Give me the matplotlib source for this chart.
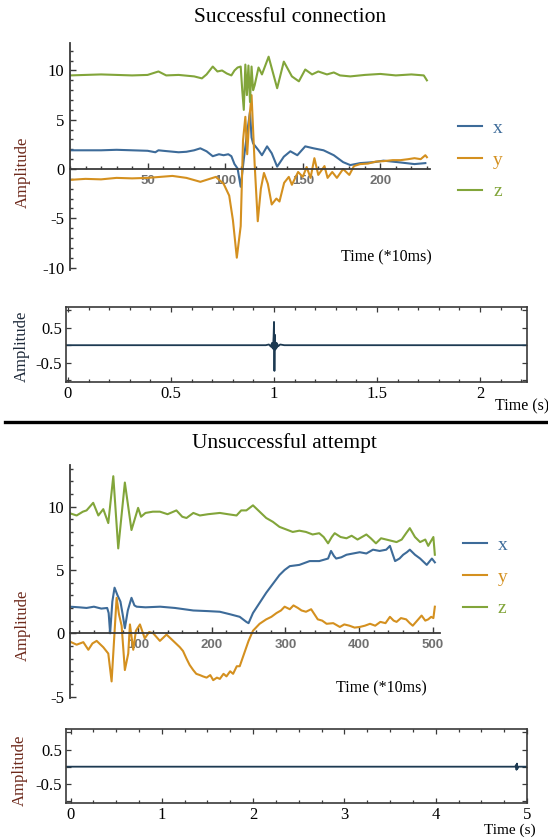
import matplotlib
matplotlib.use("Agg")
import matplotlib.pyplot as plt
from matplotlib.lines import Line2D
from matplotlib.ticker import MultipleLocator

plt.rcParams["font.family"] = ["Liberation Serif", "DejaVu Serif"]

# ---- successful connection: accelerometer (time in *10ms) ----
s_x_t = [0, 10, 20, 30, 40, 50, 55, 57, 60, 70, 75, 80, 84, 88, 92, 96, 99, 102, 104, 106, 108, 110,
         112, 114, 116, 117, 118, 120, 121.5, 123.7, 127, 130, 133.5, 137.8, 142, 146.5, 151.6, 157,
         163.4, 170, 176, 180.6, 187, 196, 202, 211, 222, 229]
s_x_v = [1.9, 1.9, 1.9, 1.95, 1.9, 1.85, 1.7, 1.9, 1.85, 1.7, 1.75, 1.9, 2.1, 1.8, 1.3, 1.5, 1.4, 1.5,
         1.3, 0.5, 0.05, -1.8, 1.0, 3.5, 5.8, 3.2, 2.6, 2.2, 1.9, 1.4, 2.3, 1.6, 0.24, 1.25, 1.8, 1.4,
         2.3, 2.1, 1.9, 1.4, 0.7, 0.4, 0.6, 0.7, 0.85, 0.7, 0.5, 0.6]

s_y_t = [0, 10, 20, 30, 40, 50, 58, 66, 75, 84, 90, 94, 99, 102.6, 105, 107.5, 110, 111.5, 113, 114.2,
         115.5, 117, 119, 121, 123, 125, 127.5, 130, 133, 135, 138, 141, 143, 147, 150, 152.5, 155,
         157.5, 160, 164, 166, 169, 172, 176, 180, 183, 187, 192, 197, 202, 208, 213, 218, 222, 226,
         229, 230]
s_y_v = [-1.1, -1.0, -1.05, -0.9, -0.95, -0.9, -0.8, -0.7, -0.9, -1.3, -1.0, -0.8, -1.5, -2.7, -5.2,
         -9.0, -5.8, 2.9, 5.3, 1.5, 5.0, 7.5, 0.5, -5.3, -2.0, -0.4, -1.5, -3.6, -3.0, -3.3, -1.4, -0.8,
         -1.6, -0.3, -0.8, 0.2, -0.9, 1.1, -0.6, 0.3, -0.9, -0.3, -0.9, 0.0, -0.6, 0.3, 0.5, 0.55, 0.75,
         0.8, 0.9, 0.9, 1.0, 1.1, 1.0, 1.4, 1.2]

s_z_t = [0, 10, 20, 30, 40, 50, 57, 62, 70, 80, 85, 88, 92, 95, 98, 101, 104, 106, 108, 110, 111, 112,
         113, 114, 115, 116, 117, 118, 119, 121.5, 123.7, 128, 133.5, 137.8, 143, 147.5, 151.6, 156,
         160, 165.6, 170, 174, 180.6, 190, 200, 210, 220, 228, 230]
s_z_v = [9.5, 9.55, 9.6, 9.55, 9.5, 9.55, 9.9, 9.5, 9.55, 9.4, 9.2, 9.6, 10.4, 9.9, 10.0, 9.7, 9.5,
         10.0, 10.3, 10.4, 8.0, 6.0, 10.6, 7.5, 10.5, 6.8, 10.4, 8.0, 8.5, 10.3, 9.6, 11.4, 8.2, 10.9,
         9.4, 8.9, 10.1, 9.6, 9.9, 9.6, 9.8, 9.5, 9.4, 9.55, 9.65, 9.5, 9.6, 9.5, 9.0]

# ---- successful connection: audio (s) ----
s_aud_t = [-0.01, 0.96, 0.975, 0.985, 0.99, 0.995, 0.998, 1.0, 1.002, 1.004, 1.007, 1.012, 1.02,
           1.03, 1.05, 2.23]
s_aud_v = [0, 0, 0.02, -0.04, 0.06, -0.1, 0.25, 0.67, -0.74, 0.3, -0.12, 0.06, -0.03, 0.02, 0, 0]
s_burst = (1.0, 0.0)

# ---- unsuccessful attempt: accelerometer ----
u_x_t = [7.5, 20, 30, 40, 50, 58, 60, 62, 65, 68, 72, 76, 79, 82, 86, 91, 95, 98, 110, 130, 150, 175,
         195, 211, 225, 238, 247, 250, 256, 265, 274, 283, 292, 299, 306, 319, 333, 346, 358, 362, 366,
         369, 376, 383, 392, 401, 410, 419, 428, 437, 442, 446, 449, 455, 460, 465, 469, 476, 483, 492,
         499, 503]
u_x_v = [2.1, 2.05, 2.0, 2.1, 1.95, 2.0, 1.6, 0.0, 2.5, 3.6, 3.0, 2.5, 1.5, 0.4, 1.8, 2.8, 2.2, 2.1,
         2.05, 2.1, 2.0, 1.8, 1.75, 1.7, 1.5, 1.3, 0.9, 0.8, 1.6, 2.4, 3.2, 3.9, 4.6, 5.0, 5.3, 5.4,
         5.7, 5.7, 5.9, 6.5, 6.1, 5.9, 6.0, 6.2, 6.3, 6.4, 6.3, 6.6, 6.5, 6.6, 6.9, 6.2, 5.7, 5.9, 6.2,
         6.4, 6.6, 6.2, 5.9, 5.4, 5.9, 5.6]

u_y_t = [7.5, 16.5, 25.6, 32.4, 38, 43.7, 52.7, 59.5, 64, 70.8, 74, 77.6, 82, 86.6, 88.9, 93.4, 97,
         102.5, 109, 115, 120.5, 129.6, 138.6, 147.7, 156.7, 161, 165.7, 170, 174.8, 179, 183.9, 188,
         193, 198, 202, 207, 211, 216, 220, 225, 229, 234, 238, 244, 250, 256, 265, 274, 281, 288, 294,
         299, 306, 311, 317, 322, 328, 335, 344, 350, 356, 365, 374, 380, 387, 394, 401, 408, 415, 422,
         429, 436, 442, 447, 451, 457, 464, 469, 473, 479, 485, 490, 494, 498, 501, 503]
u_y_v = [-0.66, -0.9, -0.7, -1.3, -0.8, -0.6, -1.1, -1.6, -3.8, 2.8, 1.5, 0.6, -2.9, -1.6, 0.7, -1.3,
         0.2, 0.7, -0.4, 0.1, 0.0, -0.6, -0.1, -0.6, -1.1, -1.4, -2.0, -2.5, -2.9, -3.2, -3.3, -3.4,
         -3.5, -3.3, -3.7, -3.5, -3.6, -3.2, -3.4, -3.0, -3.2, -2.6, -2.6, -1.6, -0.6, 0.2, 0.75, 1.1,
         1.3, 1.6, 1.8, 2.1, 1.9, 2.2, 2.0, 1.8, 1.7, 1.9, 1.1, 1.0, 0.75, 0.8, 0.5, 0.7, 0.6, 0.45,
         0.5, 0.6, 0.75, 0.6, 0.9, 0.8, 1.3, 1.0, 0.9, 1.2, 1.1, 0.8, 0.6, 1.0, 1.4, 1.0, 1.1, 1.3,
         1.2, 2.1]

u_z_t = [7.5, 16.5, 25, 30, 39, 46, 52.7, 59.5, 66.3, 73, 82, 91, 100, 104, 110, 120, 129.6, 140, 152,
         160, 165.7, 175, 183.9, 195, 211, 222, 233.7, 240, 247, 256, 265, 274, 283, 292, 301, 310, 319,
         328, 337, 346, 352, 358, 363, 367, 375, 383, 390, 398, 404, 410, 416, 423, 430, 437, 444, 451,
         458, 464, 469, 476, 483, 490, 494, 498, 501, 503]
u_z_v = [9.47, 9.3, 9.6, 9.7, 10.3, 9.3, 9.8, 8.7, 12.4, 6.7, 11.9, 8.15, 9.9, 9.2, 9.5, 9.6, 9.6,
         9.4, 9.7, 9.2, 9.1, 9.5, 9.3, 9.4, 9.5, 9.4, 9.3, 9.7, 9.7, 10.1, 9.6, 9.1, 8.8, 8.4, 8.2, 8.0,
         8.1, 8.0, 7.8, 7.9, 7.6, 7.1, 7.6, 7.9, 7.6, 7.5, 7.7, 7.4, 7.6, 7.8, 7.5, 7.1, 7.5, 7.4, 7.3,
         7.2, 7.4, 7.9, 8.3, 7.6, 7.2, 7.4, 6.9, 7.3, 7.6, 6.2]

# ---- unsuccessful attempt: audio ----
u_aud_t = [-0.05, 4.87, 4.88, 4.885, 4.89, 4.895, 4.9, 5.0]
u_aud_v = [0, 0, 0.05, -0.09, 0.09, -0.06, 0, 0]

series_names = ["x", "y", "z"]
BLUE, ORANGE, GREEN = "#3d6b99", "#d4901f", "#82a53a"
AUDIO = "#1d3a52"
SPINE = "#3a3a3a"
W, H = 548, 839


def fig_rect(left, top, right, bottom):
    return [left / W, 1 - bottom / H, (right - left) / W, (bottom - top) / H]


def accel_panel(rect, xlim, ylim, xticks, xminor, yticks, series, legend_px):
    ax = fig.add_axes(rect)
    ax.set_facecolor("none")
    for (t, v), c, name in zip(series, [BLUE, ORANGE, GREEN], series_names):
        ax.plot(t, v, color=c, lw=1.5, label=name, zorder=2)
    ax.set_xlim(*xlim)
    ax.set_ylim(*ylim)
    ax.spines["top"].set_visible(False)
    ax.spines["right"].set_visible(False)
    ax.spines["bottom"].set_position(("data", 0))
    for s in ("left", "bottom"):
        ax.spines[s].set_color(SPINE)
        ax.spines[s].set_linewidth(1.3)
        ax.spines[s].set_zorder(3)
    ax.set_xticks(xticks, labels=[str(x) for x in xticks], fontfamily="Liberation Sans",
                  fontweight="bold", fontsize=9.5, color="#707070")
    ax.xaxis.set_minor_locator(MultipleLocator(xminor))
    ax.set_yticks(yticks, labels=[str(y) for y in yticks], fontsize=12)
    ax.yaxis.set_minor_locator(MultipleLocator(1))
    ax.tick_params(which="both", direction="in", color=SPINE, width=1)
    ax.tick_params(which="major", length=4)
    ax.tick_params(which="minor", length=2.5)
    ax.tick_params(axis="x", pad=4)
    ax.tick_params(axis="y", pad=4)
    ax.legend(loc="center left", bbox_to_anchor=(legend_px[0] / W, 1 - legend_px[1] / H),
              bbox_transform=fig.transFigure, frameon=False, fontsize=14, handlelength=1.25,
              handletextpad=0.55, labelspacing=0.72, borderpad=0, borderaxespad=0,
              labelcolor="linecolor")
    return ax


def audio_panel(rect, xlim, t, v, xticks, xlabels, xminor):
    ax = fig.add_axes(rect)
    ax.plot(t, v, color=AUDIO, lw=1.3)
    ax.set_xlim(*xlim)
    ax.set_ylim(-1.06, 1.1)
    for s in ax.spines.values():
        s.set_color(SPINE)
        s.set_linewidth(1.2)
    ax.set_xticks(xticks, labels=xlabels, fontsize=12)
    ax.xaxis.set_minor_locator(MultipleLocator(xminor))
    ax.set_yticks([-1, -0.5, 0, 0.5, 1], labels=["", "-0.5", "", "0.5", ""], fontsize=12)
    ax.tick_params(which="both", direction="in", top=True, right=True, color=SPINE, width=0.9)
    ax.tick_params(which="major", length=3.5)
    ax.tick_params(which="minor", length=2)
    ax.tick_params(axis="x", pad=3)
    ax.tick_params(axis="y", pad=3)
    return ax


fig = plt.figure(figsize=(W / 100, H / 100), dpi=100)

# successful connection
fig.text(290 / W, 1 - 17 / H, "Successful connection", ha="center", va="center", fontsize=15.5)
accel_panel(fig_rect(70, 42.9, 430, 270.5), (0, 232), (-10.3, 12.8), [50, 100, 150, 200], 10,
            [-10, -5, 0, 5, 10], [(s_x_t, s_x_v), (s_y_t, s_y_v), (s_z_t, s_z_v)], (458, 160))
fig.text(432 / W, 1 - 257 / H, "Time (*10ms)", ha="right", va="center", fontsize=11.5)
fig.text(23 / W, 1 - 172 / H, "Amplitude", rotation=90, ha="center", va="center",
         fontsize=12, color="#6e2a1c")

ax2 = audio_panel(fig_rect(66, 307, 527, 382), (-0.0097, 2.228), s_aud_t, s_aud_v,
                  [0, 0.5, 1, 1.5, 2], ["0", "0.5", "1", "1.5", "2"], 0.1)
ax2.scatter([s_burst[0]], [s_burst[1]], s=22, color=AUDIO, zorder=3)
fig.text(22 / W, 1 - 346 / H, "Amplitude", rotation=90, ha="center", va="center",
         fontsize=12, color="#1e2a3a")
fig.text(495 / W, 1 - 406 / H, "Time (s)", ha="left", va="center", fontsize=11.5)

# separator
fig.add_artist(Line2D([5 / W, 1.0], [1 - 422 / H, 1 - 422 / H], color="black", lw=2.4,
                      transform=fig.transFigure))

# unsuccessful attempt
fig.text(284 / W, 1 - 443 / H, "Unsuccessful attempt", ha="center", va="center", fontsize=15.5)
accel_panel(fig_rect(70, 464.8, 440, 697.9), (7.5, 510), (-5.1, 13.3), [100, 200, 300, 400, 500],
            20, [-5, 0, 5, 10], [(u_x_t, u_x_v), (u_y_t, u_y_v), (u_z_t, u_z_v)], (463, 577))
fig.text(427 / W, 1 - 688 / H, "Time (*10ms)", ha="right", va="center", fontsize=11.5)
fig.text(23 / W, 1 - 625 / H, "Amplitude", rotation=90, ha="center", va="center",
         fontsize=12, color="#6e2a1c")

audio_panel(fig_rect(66, 729, 527, 803), (-0.05, 5.0), u_aud_t, u_aud_v,
            [0, 1, 2, 3, 4, 5], ["0", "1", "2", "3", "4", "5"], 0.25)
fig.text(20 / W, 1 - 770 / H, "Amplitude", rotation=90, ha="center", va="center",
         fontsize=12, color="#6e2a1c")
fig.text(484 / W, 1 - 830 / H, "Time (s)", ha="left", va="center", fontsize=11)

fig.savefig("out.png", dpi=100)
